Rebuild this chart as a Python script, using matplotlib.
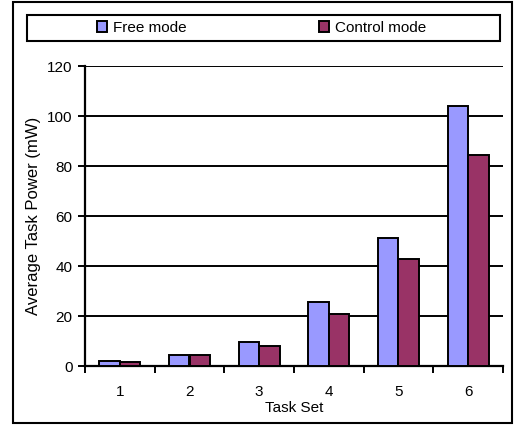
import matplotlib
matplotlib.use("Agg")
import matplotlib.pyplot as plt
from matplotlib.patches import Rectangle
import numpy as np

categories = ["1", "2", "3", "4", "5", "6"]
free_mode = [2.1, 4.5, 9.7, 25.5, 51.3, 104.1]
control_mode = [1.5, 4.5, 8.2, 21.0, 43.0, 84.5]
y_ticks = [0, 20, 40, 60, 80, 100, 120]

plt.rcParams['font.family'] = ['Liberation Sans', 'DejaVu Sans']

W, H = 514, 425
fig = plt.figure(figsize=(W / 100, H / 100), dpi=100)

# axes placement (pixel measurements from the reference)
left_px, right_px, top_px, bottom_px = 85, 503, 66, 366
ax = fig.add_axes([left_px / W, 1 - bottom_px / H,
                   (right_px - left_px) / W, (bottom_px - top_px) / H])

x = np.arange(len(categories))
bw = 0.296
b1 = ax.bar(x - bw / 2, free_mode, bw, color='#9999FF', edgecolor='black',
            linewidth=1.4, label='Free mode', zorder=3)
b2 = ax.bar(x + bw / 2, control_mode, bw, color='#993366', edgecolor='black',
            linewidth=1.4, label='Control mode', zorder=3)

ax.set_xlim(-0.5, len(categories) - 0.5)
ax.set_ylim(0, 120)
ax.set_yticks(y_ticks)
ax.set_yticklabels([str(v) for v in y_ticks])
ax.yaxis.grid(True, color='black', linewidth=1.4, zorder=0)
ax.set_axisbelow(True)

ax.set_xticks(x)
ax.set_xticklabels(categories)
ax.set_xticks(np.arange(-0.5, len(categories)), minor=True)
ax.tick_params(axis='x', which='major', length=0, pad=14, labelsize=11)
ax.tick_params(axis='x', which='minor', length=5, width=1.4, direction='out')
ax.tick_params(axis='y', length=5, width=1.4, direction='out', pad=4, labelsize=11)

for s in ['top', 'right']:
    ax.spines[s].set_visible(False)
for s in ['left', 'bottom']:
    ax.spines[s].set_linewidth(1.6)

ax.set_xlabel('Task Set', fontsize=11, labelpad=1)
ax.set_ylabel('Average Task Power (mW)', fontsize=12, labelpad=4)

# legend
leg = fig.legend(handles=[b1, b2], labels=['Free mode', 'Control mode'],
                 loc='center', bbox_to_anchor=(0.509, 0.934), ncol=2,
                 frameon=False, fontsize=11, handlelength=0.7,
                 handleheight=0.7, handletextpad=0.4, columnspacing=8.6,
                 borderpad=0)
fig.add_artist(Rectangle((27.3 / W, 1 - 41.3 / H), (500 - 27.3) / W,
                         (41.3 - 14.7) / H, transform=fig.transFigure,
                         fill=False, edgecolor='black', linewidth=1.5))

# outer chart border
fig.add_artist(Rectangle((13 / W, 1 - 423 / H), (512 - 13) / W,
                         (423 - 2) / H, transform=fig.transFigure,
                         fill=False, edgecolor='black', linewidth=1.5))

fig.savefig('out.png', dpi=100)
